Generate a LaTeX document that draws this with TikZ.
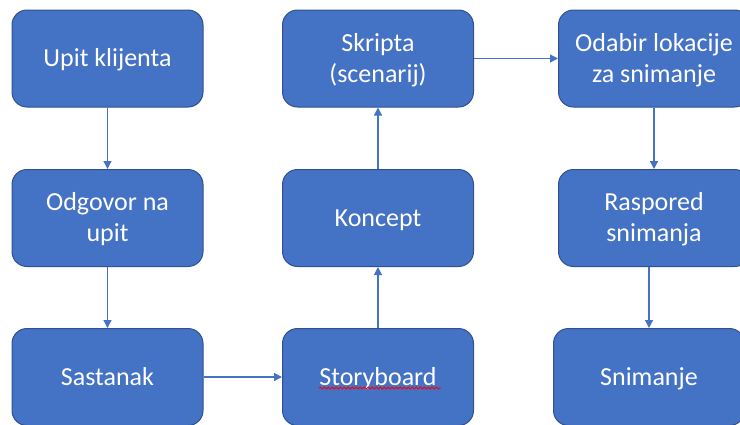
\documentclass[tikz,border=0pt]{standalone}
\usepackage{fontspec}
\setmainfont{Carlito}
\usetikzlibrary{arrows.meta,decorations.pathmorphing}
\definecolor{officeblue}{HTML}{4472C4}
\definecolor{officeedge}{HTML}{2F528F}

\begin{document}
\begin{tikzpicture}[x=0.5pt, y=-0.5pt]
    \tikzset{
      stepbox/.style={rectangle, rounded corners=7.5pt, fill=officeblue, draw=officeedge, line width=0.5pt,
        text=white, minimum width=95.5pt, minimum height=48.5pt, text width=90pt, inner xsep=2pt,
        align=flush center, font=\fontsize{13}{15.5}\selectfont,
        execute at begin node={\rule{0pt}{12pt}},
        execute at end node={\rule[-4pt]{0pt}{4pt}}},
      flow/.style={-{Triangle[length=4pt, width=4pt]}, draw=officeblue, line width=0.6pt},
      squiggle/.style={draw=red, line width=0.4pt, decorate,
        decoration={snake, amplitude=0.5pt, segment length=2pt}}
    }
    \useasboundingbox (0,0) rectangle (740,424);
    \draw (107.5,58.5) node (upit) [stepbox] {Upit klijenta};
    \draw (107.5,218) node (odgovor) [stepbox] {Odgovor na\\upit};
    \draw (107.5,377) node (sastanak) [stepbox] {Sastanak};
    \draw (378,377) node (storyboard) [stepbox] {Storyboard};
    \draw (378,218) node (koncept) [stepbox] {Koncept};
    \draw (378,58.5) node (skripta) [stepbox] {Skripta\\(scenarij)};
    \draw (654,58.5) node (odabir) [stepbox] {Odabir lokacije\\za snimanje};
    \draw (654,218) node (raspored) [stepbox] {Raspored\\snimanja};
    \draw (649,377) node (snimanje) [stepbox] {Snimanje};

    \foreach \from/\to in {upit/odgovor, odgovor/sastanak, sastanak/storyboard,
      storyboard/koncept, koncept/skripta, skripta/odabir, odabir/raspored}
      \draw[flow] (\from) -- (\to);
    \draw[flow] (snimanje.north |- raspored.south) -- (snimanje.north);

    % spell-check mark under Storyboard
    \draw[squiggle] ([xshift=-29.5pt, yshift=-5.5pt]storyboard.center) -- ([xshift=31.5pt, yshift=-5.5pt]storyboard.center);
\end{tikzpicture}
\end{document}
